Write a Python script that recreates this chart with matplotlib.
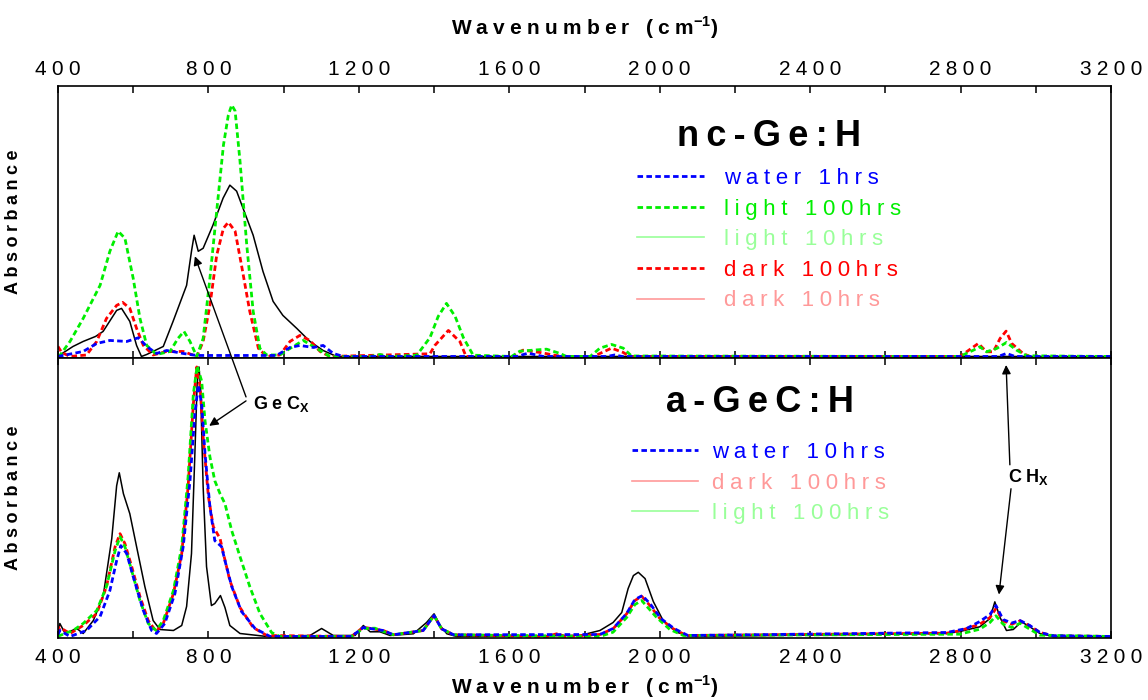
import numpy as np
import matplotlib
matplotlib.use("Agg")
import matplotlib.pyplot as plt
from matplotlib.lines import Line2D
from matplotlib.ticker import MultipleLocator

plt.rcParams['font.family'] = ['Liberation Sans', 'DejaVu Sans']
plt.rcParams['mathtext.fontset'] = 'custom'
plt.rcParams['mathtext.rm'] = 'Liberation Sans'
plt.rcParams['mathtext.bf'] = 'Liberation Sans:bold'

# ---- nc-Ge:H (top panel) ----
nc_ref_wn = [400, 405, 440, 467, 500, 520, 556, 569, 591, 609, 622, 636, 680, 706, 742, 755, 762,
             773, 786, 812, 839, 857, 875, 892, 919, 945, 972, 998, 1035, 1070, 1105, 1141, 3200]
nc_ref_a = [0, 1.5, 10, 15, 20, 25, 46, 48, 35, 11, 0, 2, 10, 35, 71, 105, 121,
            105, 108, 131, 158, 171, 165, 148, 121, 85, 55, 41, 28, 15, 6, 0, 0]

nc_light100_wn = [400, 405, 432, 467, 512, 538, 560, 578, 600, 618, 636, 662, 698, 719, 735, 751,
                  769, 786, 804, 822, 840, 853, 862, 871, 884, 902, 919, 937, 955, 990, 1017, 1052,
                  1088, 1123, 1230, 1256, 1280, 1354, 1389, 1411, 1433, 1456, 1478, 1504, 1606, 1628,
                  1699, 1735, 1752, 1815, 1841, 1872, 1903, 1925, 2798, 2834, 2851, 2869, 2896, 2922,
                  2949, 2976, 3200]
nc_light100_a = [0, 1, 15, 38, 71, 105, 125, 118, 78, 38, 11, 2, 5, 18, 25, 15,
                 0, 18, 78, 145, 211, 241, 251, 245, 195, 111, 45, 8, 1.5, 1.5, 8, 16,
                 8, 0, 0, 2, 0, 1.3, 18.7, 40, 53, 40, 18.7, 1.3, 0, 5.3,
                 7.3, 3, 0, 0, 8.3, 12, 8.3, 0.5, 0, 6.3, 9.7, 4.7, 8, 14,
                 6.3, 0.7, 0]

nc_dark100_wn = [400, 410, 432, 476, 503, 529, 556, 572, 591, 609, 627, 653, 689, 733, 769, 786,
                 804, 822, 840, 853, 871, 888, 910, 933, 955, 990, 1017, 1043, 1070, 1097, 1123,
                 1389, 1402, 1438, 1469, 1485, 1610, 1636, 1682, 1717, 1740, 1823, 1841, 1872, 1903,
                 1920, 2798, 2816, 2847, 2869, 2887, 2905, 2921, 2936, 2953, 2966, 2984, 3200]
nc_dark100_a = [10, 4, 0, 1.5, 15, 38, 51, 54, 48, 28, 11, 1.5, 5, 5, 0, 15,
                51, 101, 128, 134, 125, 91, 45, 8, 0, 1.5, 15, 21, 16, 5, 0,
                2.7, 11, 26, 14.7, 0, 0, 6.3, 4, 1.5, 0, 0, 3, 8.3, 4,
                0, 0, 4.7, 13, 4.7, 4.7, 18, 25.3, 13, 7.3, 3, 0, 0]

nc_water1_wn = [400, 467, 503, 538, 583, 614, 636, 662, 689, 733, 769, 981, 1017, 1043, 1079, 1105,
                1132, 1159, 1620, 1650, 1690, 1860, 1880, 1900, 2900, 2922, 2945, 3200]
nc_water1_a = [0, 5, 13, 16, 15, 18.7, 10, 3, 6, 3, 1, 1, 9, 11, 9, 11,
               3, 0, 0, 3.3, 0, 0, 1.5, 0, 0, 3, 0, 0]

# ---- a-GeC:H (bottom panel) ----
ag_ref_wn = [400, 405, 419, 450, 467, 494, 520, 543, 556, 563, 574, 591, 609, 631, 653, 671, 707,
             729, 742, 755, 764, 770, 775, 779, 786, 795, 808, 817, 832, 844, 857, 884, 955, 1070,
             1101, 1132, 1190, 1212, 1230, 1256, 1283, 1345, 1380, 1400, 1416, 1434, 1460, 1788,
             1841, 1876, 1899, 1916, 1930, 1943, 1961, 1983, 2009, 2045, 2080, 2763, 2798, 2851,
             2878, 2891, 2905, 2922, 2940, 2962, 2984, 3011, 3046, 3200]
ag_ref_a = [5, 13, 3, 8, 3, 16, 40, 98, 151, 164, 143, 123, 90, 50, 16, 7, 6,
            11, 30, 83, 183, 253, 270, 250, 150, 70, 31, 33, 41, 29, 11, 3, 0, 1,
            8, 1, 1, 11, 4.7, 4.7, 1, 2.7, 14, 22.7, 11, 2.7, 0, 1,
            6, 14, 24, 48, 61, 64.3, 58, 35, 16, 4.3, 0, 3, 5, 9.7,
            18, 34.7, 19, 6, 7, 14.7, 9.7, 3, 0, 0]

ag_dark100_wn = [400, 405, 432, 467, 503, 529, 552, 565, 578, 596, 618, 640, 661, 680, 707, 729,
                 746, 760, 769, 778, 786, 800, 813, 831, 840, 857, 884, 919, 955, 1180, 1212, 1247,
                 1265, 1292, 1371, 1400, 1420, 1452, 1700, 1726, 1750, 1841, 1876, 1912, 1934, 1952,
                 1974, 2001, 2036, 2071, 2763, 2798, 2851, 2878, 2894, 2913, 2936, 2958, 2984, 3011,
                 3046, 3200]
ag_dark100_a = [4, 9, 3, 11, 23, 50, 90, 103, 93, 70, 40, 16, 5, 13, 43, 83,
                150, 233, 270, 250, 200, 140, 110, 98, 83, 56, 29, 9, 1, 0, 9.3, 7,
                6, 1.7, 6, 21, 7.7, 1.7, 0, 2.7, 0, 2, 7.7, 22.7, 36, 40.3,
                31, 17.7, 7.7, 1, 3.3, 5.7, 12.3, 19, 28, 15.7, 12.3, 15.7, 10.7, 4,
                0.7, 0]

ag_water10_wn = [400, 405, 432, 476, 512, 538, 556, 567, 583, 600, 627, 649, 662, 684, 711, 733,
                 751, 764, 773, 782, 791, 804, 817, 835, 844, 862, 888, 924, 964, 1180, 1212, 1247,
                 1265, 1292, 1371, 1400, 1420, 1452, 1841, 1876, 1912, 1934, 1954, 1976, 2003, 2038,
                 2075, 2763, 2816, 2851, 2878, 2894, 2913, 2936, 2958, 2984, 3011, 3046, 3200]
ag_water10_a = [2, 6, 0, 6, 20, 46, 76, 91, 83, 60, 26, 6, 3, 13, 43, 90,
                156, 223, 252, 233, 183, 130, 96, 90, 76, 50, 25, 8, 0, 0, 9, 7,
                6, 1.7, 6, 21, 7.7, 1.7, 2, 8, 23, 37, 41, 32, 18, 8,
                1, 4, 8, 15, 22, 31, 17, 13.5, 16, 11, 4, 0.7, 0]

ag_light100_wn = [400, 405, 440, 467, 503, 529, 552, 565, 578, 596, 618, 640, 661, 680, 707, 729,
                  746, 760, 770, 782, 791, 804, 817, 831, 844, 862, 884, 910, 937, 968, 990, 1180,
                  1212, 1243, 1265, 1292, 1371, 1400, 1420, 1452, 1841, 1876, 1912, 1934, 1952, 1992,
                  2027, 2063, 2798, 2851, 2878, 2894, 2913, 2936, 2958, 2984, 3011, 3200]
ag_light100_a = [0, 1, 6, 13, 26, 50, 86, 100, 90, 66, 36, 13, 6, 16, 46, 90,
                 160, 243, 271, 256, 216, 180, 156, 143, 133, 106, 80, 50, 23, 4, 0, 0,
                 8, 8.3, 5, 1.7, 6, 21, 7.7, 1.7, 0, 4.3, 19, 32, 36, 19,
                 7, 1, 2.3, 7.3, 14, 20.7, 12.3, 9, 13.3, 7.3, 1.3, 0]

xtick_vals = [400, 800, 1200, 1600, 2000, 2400, 2800, 3200]

top_labels = ['water 1hrs', 'light 100hrs', 'light 10hrs', 'dark 100hrs', 'dark 10hrs']
top_colors = ['#0000ff', '#00ee00', '#99ff99', '#ff0000', '#ff9999']
top_styles = ['dash', 'dash', 'solid', 'dash', 'solid']
bot_labels = ['water 10hrs', 'dark 100hrs', 'light 100hrs']
bot_colors = ['#0000ff', '#ff9999', '#99ff99']
bot_styles = ['dash', 'solid', 'solid']


def sp(s, gap='\u2005'):
    # wide letter spacing like the original
    return gap.join(list(s))


DASH = (0, (2.0, 1.2))
BLUE, GREEN, RED = '#0000ff', '#00ee00', '#ff0000'
LWD = 2.0

fig = plt.figure(figsize=(11.48, 7.0), dpi=100)
ax1 = fig.add_axes([0.0505, 0.4886, 0.9173, 0.3886])
ax2 = fig.add_axes([0.0505, 0.0886, 0.9173, 0.4000])

ax1.plot(nc_ref_wn, nc_ref_a, color='black', lw=1.1)
ax1.plot(nc_dark100_wn, nc_dark100_a, color=RED, lw=LWD, ls=DASH)
ax1.plot(nc_light100_wn, nc_light100_a, color=GREEN, lw=LWD, ls=DASH)
ax1.plot(nc_water1_wn, nc_water1_a, color=BLUE, lw=LWD, ls=DASH)

ax2.plot(ag_ref_wn, ag_ref_a, color='black', lw=1.1)
ax2.plot(ag_dark100_wn, ag_dark100_a, color=RED, lw=LWD, ls=DASH)
ax2.plot(ag_light100_wn, ag_light100_a, color=GREEN, lw=LWD, ls=DASH)
ax2.plot(ag_water10_wn, ag_water10_a, color=BLUE, lw=LWD, ls=DASH)

ax1.set_ylim(-1.5, 270)
ax2.set_ylim(-1.5, 279)

for ax in (ax1, ax2):
    ax.set_xlim(400, 3200)
    ax.set_yticks([])
    ax.set_xticks(xtick_vals)
    ax.set_xticklabels([sp(str(v)) for v in xtick_vals])
    ax.xaxis.set_minor_locator(MultipleLocator(200))
    ax.tick_params(axis='x', which='both', direction='in', top=True, bottom=True,
                   length=5, width=1.1, labelsize=15)
    for s in ax.spines.values():
        s.set_linewidth(1.2)
    ax.set_ylabel(sp('Absorbance'), fontsize=13, fontweight='bold')
    ax.yaxis.set_label_coords(-0.034, 0.5)

ax1.tick_params(axis='x', labelbottom=False, labeltop=True, pad=5)
ax2.tick_params(axis='x', labelbottom=True, labeltop=False, pad=7)

xl = sp('Wavenumber (cm') + r'$^{\mathbf{-1}}$' + ')'
ax1.xaxis.set_label_position('top')
ax1.set_xlabel(xl, fontsize=15, fontweight='bold', labelpad=18)
ax2.set_xlabel(xl, fontsize=15, fontweight='bold', labelpad=5)


def handles(colors, styles):
    hs = []
    for c, st in zip(colors, styles):
        if st == 'dash':
            hs.append(Line2D([], [], color=c, lw=LWD, ls=DASH))
        else:
            hs.append(Line2D([], [], color=c, lw=1.2))
    return hs


leg1 = ax1.legend(handles(top_colors, top_styles), [sp(t) for t in top_labels],
                  loc='upper left', bbox_to_anchor=(0.535, 0.935), frameon=False,
                  fontsize=16, labelcolor=top_colors, handlelength=3.0,
                  handletextpad=0.9, labelspacing=0.43, borderpad=0.2,
                  title=sp('nc-Ge:H', '\u2009'),
                  title_fontproperties={'size': 26, 'weight': 'bold'})
leg1._legend_box.sep = 10

leg2 = ax2.legend(handles(bot_colors, bot_styles), [sp(t) for t in bot_labels],
                  loc='upper left', bbox_to_anchor=(0.53, 0.96), frameon=False,
                  fontsize=16, labelcolor=bot_colors, handlelength=3.0,
                  handletextpad=0.6, labelspacing=0.43, borderpad=0.2,
                  title=sp('a-GeC:H', '\u2009'),
                  title_fontproperties={'size': 26, 'weight': 'bold'})
leg2._legend_box.sep = 16

# GeCx annotation
ax2.text(918, 233, sp('GeC', '\u2005') + r'$_{\mathbf{X}}$', fontsize=13,
         fontweight='bold', ha='left', va='center')
arw = dict(arrowstyle='-|>', color='black', lw=1.0, mutation_scale=13, shrinkA=0, shrinkB=0)
ax2.annotate('', xy=(764, 100), xycoords=ax1.transData, xytext=(900, 240),
             textcoords=ax2.transData, arrowprops=arw, annotation_clip=False)
ax2.annotate('', xy=(802, 211), xytext=(900, 236), arrowprops=arw, annotation_clip=False)

# CHx annotation
ax2.text(2926, 160, sp('CH', '\u2005') + r'$_{\mathbf{X}}$', fontsize=13,
         fontweight='bold', ha='left', va='center')
ax2.annotate('', xy=(2921, 272), xytext=(2931, 172), arrowprops=arw, annotation_clip=False)
ax2.annotate('', xy=(2902, 42), xytext=(2934, 148), arrowprops=arw, annotation_clip=False)

fig.savefig('out.png', dpi=100)
